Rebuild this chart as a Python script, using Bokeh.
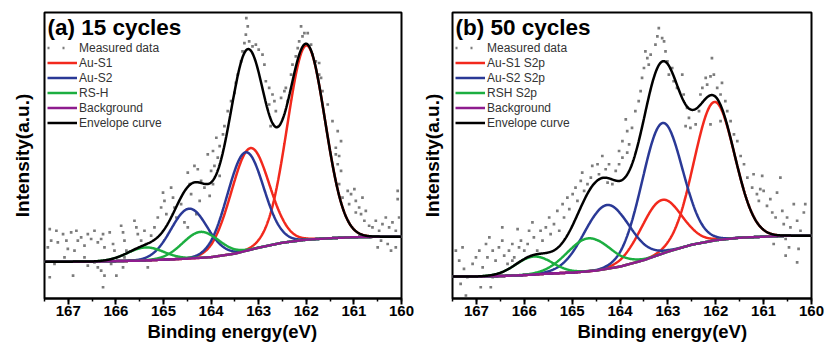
import numpy as np
from bokeh.plotting import figure
from bokeh.models import Range1d, SingleIntervalTicker, Legend, LegendItem, Label, Title
from bokeh.layouts import row
from bokeh.embed import file_html
from bokeh.resources import INLINE

# ---------------- data: panel (a) 15 cycles ----------------
a_title = "(a) 15 cycles"
a_names = ["Au-S1", "Au-S2", "RS-H"]
a_meas_E = [167.39, 167.25, 167.36, 167.22, 167.43, 167.11, 167.04, 166.94, 166.83, 166.80, 166.87, 167.01,
            166.73, 166.66, 166.59, 166.52, 166.45, 166.38, 166.31, 166.24, 166.27, 166.13, 166.06, 166.03,
            165.89, 165.85, 165.82, 165.78, 165.71, 166.45, 166.38, 166.31, 166.24, 166.27, 166.59, 166.90,
            167.08, 167.29, 167.39, 166.66, 166.10, 165.99, 165.85, 165.82, 165.61, 165.57, 165.54, 165.47,
            165.40, 165.33, 165.36, 165.26, 165.19, 165.12, 165.05, 165.01, 164.98, 164.94, 164.84, 164.80,
            164.77, 164.73, 164.63, 164.56, 164.49, 164.45, 164.42, 164.35, 164.31, 164.28, 164.21, 164.14,
            164.07, 164.00, 163.93, 163.86, 163.82, 163.96, 164.03, 164.24, 164.49, 163.89, 163.82, 163.75,
            163.96, 163.72, 163.65, 163.58, 163.51, 163.48, 163.44, 163.37, 163.34, 163.30, 163.27, 163.26,
            163.23, 163.20, 163.13, 163.06, 163.00, 162.92, 162.88, 162.85, 162.78, 162.71, 162.67, 162.78,
            162.75, 162.64, 162.53, 162.46, 162.43, 162.39, 162.32, 162.29, 162.22, 162.18, 162.15, 162.11,
            162.08, 162.04, 161.97, 161.90, 161.87, 161.80, 161.73, 161.69, 161.66, 161.55, 161.45, 161.34,
            161.27, 161.38, 161.31, 161.73, 161.38, 161.34, 161.27, 161.31, 161.24, 161.13, 161.06, 160.99,
            161.10, 160.96, 160.89, 160.82, 160.85, 160.78, 160.75, 160.68, 160.61, 160.54, 160.47, 160.40,
            160.33, 160.26, 160.19, 160.12, 160.08, 160.05, 160.50, 160.43, 160.29, 160.22, 160.12, 160.08,
            160.96, 160.64]
a_meas_I = [69.7, 68, 58, 56.3, 51.3, 64.7, 58, 66.3, 68, 58, 48, 49.7,
            61.3, 53, 64.7, 59.7, 68, 56.3, 59.7, 51.3, 64.7, 66.3, 54.7, 48,
            73, 66.3, 58, 48, 38, 36.3, 31.3, 28, 23, 11.3, 33, 23,
            41.3, 34.7, 21.3, 41.3, 34.7, 23, 31.3, 41.3, 78, 71.3, 64.7, 58,
            68, 31.3, 54.7, 63, 71.3, 81.3, 91.3, 106.3, 98, 84.7, 111.3, 101.3,
            91.3, 81.3, 94.7, 76.3, 126.3, 114.7, 104.7, 133, 84.7, 129.7, 118, 111.3,
            144.7, 128, 133, 141.3, 123, 114.7, 103, 98, 71.3, 161.3, 153, 164.7,
            148, 173, 188, 198, 206.3, 216.3, 224.7, 238, 248, 256.3, 264.7, 281.3,
            273, 258, 253, 254.7, 249.7, 244.7, 234.7, 218, 211.3, 204.7, 198, 194.7,
            173, 188, 201.3, 208, 211.3, 198, 224.7, 234.7, 243, 251.3, 258, 273,
            263, 266.3, 266.3, 254.7, 244.7, 238, 236.3, 221.3, 208, 194.7, 178, 168,
            158, 151.3, 143, 224.7, 144.7, 134.7, 128, 114.7, 101.3, 108, 104.7, 109.7,
            94.7, 98, 91.3, 101.3, 84.7, 78, 88, 73, 71.3, 78, 68, 74.7,
            81.3, 71.3, 76.3, 68, 108, 81.3, 51.3, 58, 54.7, 48, 51.3, 99.7,
            86.3, 61.3]
a_bg_E = [167.5, 167.0, 166.5, 166.0, 165.5, 165.0, 164.5, 164.0, 163.5, 163.0, 162.5, 162.0, 161.5, 161.0, 160.5, 160.0]
a_bg_I = [37, 37, 37, 37.5, 38, 39, 40, 41.5, 45, 51, 56, 59, 60.5, 61.5, 62, 62]
a_peak_comp = [0, 0, 1, 1, 2, 2]
a_peak_center = [162.00, 163.18, 163.28, 164.46, 164.22, 165.38]
a_peak_height = [195, 102, 99, 50, 26, 13]
a_peak_sigma = [0.395, 0.40, 0.38, 0.38, 0.38, 0.38]

# ---------------- data: panel (b) 50 cycles ----------------
b_title = "(b) 50 cycles"
b_names = ["Au-S1 S2p", "Au-S2 S2p", "RSH S2p"]
b_meas_E = [167.43, 167.36, 167.29, 167.26, 167.33, 167.22, 167.19, 167.08, 167.01, 166.94, 166.91, 166.87,
            166.80, 166.77, 166.73, 166.70, 166.66, 166.60, 166.53, 166.46, 166.46, 166.42, 166.35, 166.32,
            166.25, 166.21, 166.14, 166.11, 166.07, 166.00, 165.93, 165.90, 165.83, 165.80, 165.73, 165.66,
            165.62, 165.55, 165.48, 165.45, 165.38, 165.31, 165.27, 165.20, 165.17, 165.10, 165.06, 164.99,
            164.93, 164.89, 164.82, 164.79, 164.75, 164.68, 164.61, 164.58, 164.47, 164.44, 164.37, 164.30,
            164.26, 164.23, 164.16, 164.09, 164.02, 163.95, 163.85, 166.66, 166.25, 163.88, 163.85, 163.95,
            163.81, 164.02, 163.75, 163.68, 163.61, 163.57, 163.54, 163.50, 163.47, 163.43, 163.40, 163.36,
            163.26, 163.22, 163.19, 163.12, 163.08, 163.05, 163.01, 162.98, 162.91, 162.88, 162.81, 162.70,
            162.67, 162.60, 162.56, 162.63, 162.53, 162.42, 162.35, 162.32, 162.28, 162.21, 162.18, 162.11,
            162.08, 162.04, 161.97, 161.90, 161.87, 161.80, 161.76, 161.69, 161.62, 161.55, 161.90, 162.11,
            161.48, 161.41, 161.34, 161.24, 161.21, 161.14, 161.10, 161.03, 161.00, 160.93, 160.86, 160.82,
            160.75, 160.72, 160.65, 160.61, 160.58, 160.54, 160.51, 160.47, 160.44, 160.37, 160.30, 160.27,
            160.23, 160.16, 160.13, 160.30, 160.54, 160.79, 161.07]
b_meas_I = [48, 38, 51.3, 29.7, 14.7, 3, 21.3, 34.7, 41.3, 48, 11.3, 31.3,
            54.7, 41.3, 61.3, 11.3, 48, 38, 51.3, 71.3, 58, 43, 34.7, 48,
            54.7, 41.3, 69.7, 51.3, 58, 48, 54.7, 68, 76.3, 61.3, 48, 68,
            58, 71.3, 81.3, 64.7, 74.7, 88, 68, 94.7, 81.3, 101.3, 89.7, 104.7,
            111.3, 98, 118, 126.3, 108, 114.7, 121.3, 133, 134.7, 124.7, 143, 129.7,
            116.3, 134.7, 114.7, 128, 134.7, 141.3, 146.3, 21.3, 38, 179.7, 168, 158,
            154.7, 148, 171.3, 188, 198, 208, 221.3, 231.3, 248, 241.3, 234.7, 244.7,
            254.7, 263, 271.3, 261.3, 258, 248, 238, 224.7, 231.3, 218, 211.3, 224.7,
            204.7, 191.3, 181.3, 173, 171.3, 174.7, 188, 204.7, 211.3, 221.3, 214.7, 223,
            241.3, 224.7, 211.3, 204.7, 216.3, 198, 188, 178, 164.7, 158, 178, 174.7,
            143, 134.7, 121.3, 111.3, 124.7, 104.7, 98, 123, 108, 93, 99.7, 86.3,
            81.3, 106.3, 121.3, 88, 74.7, 59.7, 81.3, 51.3, 71.3, 94.7, 78, 49.7,
            68, 86.3, 94.7, 36.3, 43, 54.7, 109.7]
b_bg_E = [167.5, 167.0, 166.5, 166.0, 165.5, 165.0, 164.5, 164.0, 163.5, 163.0, 162.5, 162.0, 161.5, 161.0, 160.5, 160.0]
b_bg_I = [22, 22, 22.5, 23.5, 25, 26, 28, 32, 38.5, 47, 54, 58.5, 61, 62, 63, 63]
b_peak_comp = [0, 0, 1, 1, 2, 2]
b_peak_center = [162.03, 163.14, 163.12, 164.28, 164.66, 165.80]
b_peak_height = [139, 54, 131, 64, 33, 18]
b_peak_sigma = [0.42, 0.42, 0.42, 0.47, 0.45, 0.38]

x_label = "Binding energy(eV)"
y_label = "Intensity(a.u.)"
legend_fixed = ["Measured data", "Background", "Envelope curve"]

# ---------------- styling ----------------
FONT = "Liberation Sans"
COMP_COLORS = ["#f2291d", "#2a3996", "#1cae40"]
BG_COLOR = "#8e1c8e"
DOT_COLOR = "#7c7c7c"


def gauss(E, c, h, s):
    return h * np.exp(-0.5 * ((E - c) / s) ** 2)


def panel(title, names, meas_E, meas_I, bg_E, bg_I, comp, cen, hgt, sig,
          width, b_left, b_right, b_top, xlab_offset, ylab_standoff):
    p = figure(width=width, height=344, x_range=Range1d(167.5, 160), y_range=Range1d(0, 287),
               output_backend="svg", toolbar_location=None,
               min_border_left=b_left, min_border_right=b_right,
               min_border_top=b_top, min_border_bottom=46)
    p.grid.visible = False
    p.outline_line_color = "black"
    p.outline_line_width = 2
    p.outline_line_alpha = 1
    p.background_fill_color = "white"
    p.border_fill_color = "white"

    # y axis: only the rotated title, no ticks
    ya = p.yaxis[0]
    ya.ticker = []
    ya.axis_line_color = None
    ya.major_tick_out = 0
    ya.major_tick_in = 0
    ya.minor_tick_out = 0
    ya.minor_tick_in = 0
    ya.major_label_standoff = 0
    ya.major_label_text_font_size = "0px"
    ya.axis_label = y_label
    ya.axis_label_standoff = ylab_standoff
    ya.axis_label_text_font = FONT
    ya.axis_label_text_font_style = "bold"
    ya.axis_label_text_font_size = "19px"
    ya.axis_label_text_color = "black"

    ax = p.xaxis[0]
    ax.ticker = SingleIntervalTicker(interval=1, num_minor_ticks=2)
    ax.axis_line_width = 2
    ax.major_tick_out = 6
    ax.major_tick_in = 0
    ax.minor_tick_out = 3
    ax.minor_tick_in = 0
    ax.major_tick_line_width = 2
    ax.minor_tick_line_width = 1.5
    ax.major_label_text_font = FONT
    ax.major_label_text_font_style = "bold"
    ax.major_label_text_font_size = "15px"
    ax.major_label_text_color = "black"
    ax.major_label_standoff = 1

    E = np.linspace(167.5, 160, 751)
    bg = np.interp(E, bg_E[::-1], bg_I[::-1])

    p.scatter(meas_E, meas_I, marker="square", size=2.7, fill_color=DOT_COLOR, line_color=None)

    comp_renderers = [None, None, None]
    total = np.zeros_like(E)
    for k in range(len(cen)):
        g = gauss(E, cen[k], hgt[k], sig[k])
        total += g
        r = p.line(E, bg + g, line_color=COMP_COLORS[comp[k]], line_width=2.5)
        if comp_renderers[comp[k]] is None:
            comp_renderers[comp[k]] = r
    r_bg = p.line(E, bg, line_color=BG_COLOR, line_width=2.5)
    r_env = p.line(E, bg + total, line_color="black", line_width=2.5)
    dummy = p.line([np.nan, np.nan], [np.nan, np.nan], line_color=DOT_COLOR, line_width=2.5, line_dash="2 13")

    items = [LegendItem(label=legend_fixed[0], renderers=[dummy])]
    for i, nm in enumerate(names):
        items.append(LegendItem(label=nm, renderers=[comp_renderers[i]]))
    items.append(LegendItem(label=legend_fixed[1], renderers=[r_bg]))
    items.append(LegendItem(label=legend_fixed[2], renderers=[r_env]))
    leg = Legend(items=items, location=(3, 168), border_line_color=None, background_fill_alpha=0,
                 label_text_font=FONT, label_text_font_size="12px", label_text_color="#333333",
                 glyph_width=30, glyph_height=15, label_height=15, spacing=0, padding=0, margin=0,
                 label_standoff=2)
    p.add_layout(leg)

    p.add_layout(Label(x=3, y=271, x_units="screen", y_units="screen", text=title,
                       text_font=FONT, text_font_style="bold", text_font_size="22.5px",
                       text_baseline="middle", text_color="black"))
    p.add_layout(Title(text=x_label, align="left", offset=xlab_offset, standoff=0,
                       text_font=FONT, text_font_style="bold", text_font_size="18.5px",
                       text_color="black"), "below")
    return p


p1 = panel(a_title, a_names, a_meas_E, a_meas_I, a_bg_E, a_bg_I,
           a_peak_comp, a_peak_center, a_peak_height, a_peak_sigma,
           width=418, b_left=44, b_right=17, b_top=11, xlab_offset=103, ylab_standoff=12)
p2 = panel(b_title, b_names, b_meas_E, b_meas_I, b_bg_E, b_bg_I,
           b_peak_comp, b_peak_center, b_peak_height, b_peak_sigma,
           width=409, b_left=34, b_right=16, b_top=12, xlab_offset=125, ylab_standoff=10)

layout = row(p1, p2)
open("out.html", "w").write(file_html(layout, INLINE))
